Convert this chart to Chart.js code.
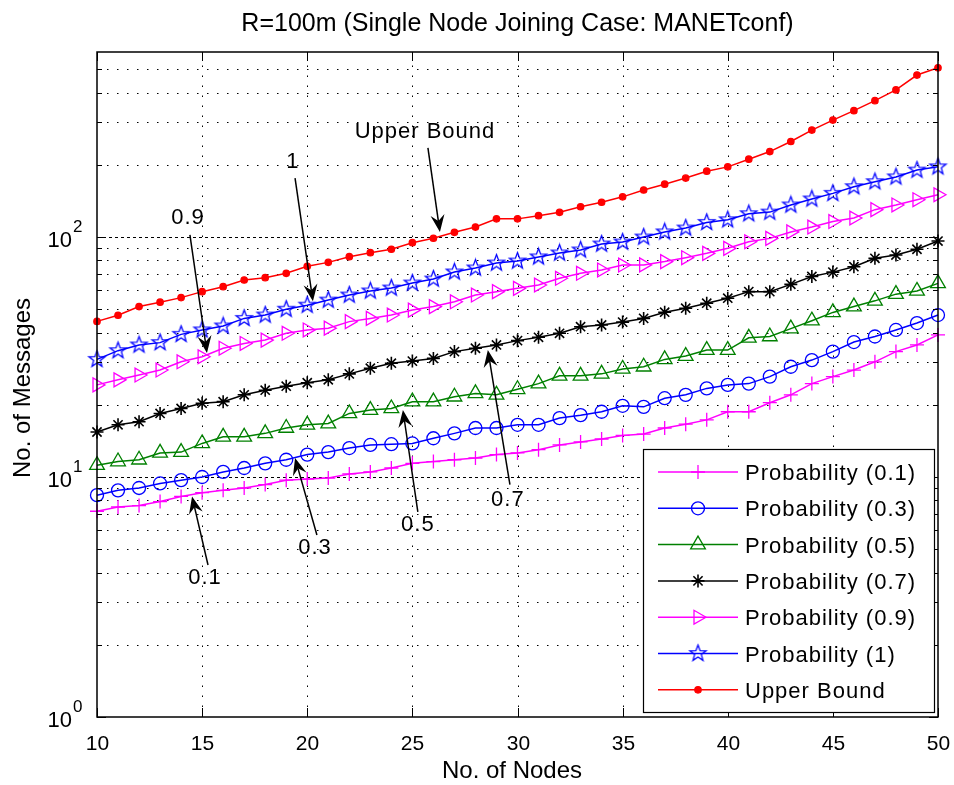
<!DOCTYPE html>
<html>
<head>
<meta charset="utf-8">
<script src="https://cdn.jsdelivr.net/npm/chart.js@4.4.1/dist/chart.umd.min.js"></script>
<style>
  body { margin: 0; background: #fff; }
</style>
</head>
<body>
<canvas id="chart" width="954" height="785"></canvas>
<script>
// x axis: number of nodes
const nodes = [10, 11, 12, 13, 14, 15, 16, 17, 18, 19, 20, 21, 22, 23, 24, 25, 26, 27, 28, 29, 30,
               31, 32, 33, 34, 35, 36, 37, 38, 39, 40, 41, 42, 43, 44, 45, 46, 47, 48, 49, 50];

// number of messages for each probability
const prob01 = [7.2, 7.5, 7.6, 7.9, 8.3, 8.6, 8.8, 9.0, 9.3, 9.7, 9.8, 9.9, 10.3, 10.5, 10.9, 11.4, 11.6, 11.8, 12.0, 12.4, 12.6,
                13.0, 13.6, 14.0, 14.4, 14.9, 15.1, 16.0, 16.6, 17.3, 18.7, 18.7, 20.4, 22.0, 24.5, 26.2, 27.9, 30.2, 33.3, 35.5, 39.1];
const prob03 = [8.4, 8.8, 9.0, 9.4, 9.7, 10.0, 10.5, 10.9, 11.4, 11.8, 12.4, 12.7, 13.2, 13.6, 13.7, 13.8, 14.5, 15.2, 16.0, 16.0, 16.5,
                16.5, 17.6, 18.1, 18.7, 19.8, 19.6, 21.3, 22.0, 23.4, 24.2, 24.5, 26.2, 28.8, 30.7, 33.3, 36.5, 38.5, 41.0, 43.8, 47.3];
const prob05 = [11.2, 11.6, 11.8, 12.6, 12.7, 13.8, 14.7, 14.7, 15.2, 16.0, 16.5, 16.7, 18.4, 19.0, 19.3, 20.6, 20.6, 21.6, 22.3, 22.0, 23.2,
                24.5, 26.4, 26.4, 26.9, 28.2, 28.8, 30.9, 31.9, 33.8, 33.8, 38.0, 38.5, 41.5, 44.8, 48.5, 51.3, 54.2, 57.8, 59.6, 64.1];
const prob07 = [15.4, 16.5, 17.0, 18.4, 19.3, 20.3, 20.6, 22.0, 23.0, 23.9, 24.7, 25.4, 26.9, 28.4, 29.8, 30.4, 31.2, 33.3, 34.4, 35.5, 37.0,
                38.2, 39.7, 42.3, 43.0, 44.2, 45.8, 48.6, 50.5, 53.0, 55.6, 59.2, 59.2, 63.5, 68.5, 71.4, 75.2, 81.5, 84.1, 88.9, 96.2];
const prob09 = [24.2, 25.4, 26.6, 27.9, 30.2, 31.7, 34.4, 36.0, 37.2, 39.7, 41.0, 41.7, 44.4, 45.8, 47.3, 49.6, 51.3, 53.7, 57.3, 59.2, 61.1,
                63.1, 67.3, 70.6, 72.9, 76.4, 76.5, 79.0, 82.0, 85.5, 89.7, 95.6, 98.7, 105, 110, 116, 120, 130, 136, 143, 150];
const prob1  = [30.9, 33.6, 35.5, 36.3, 39.3, 41.0, 42.6, 45.8, 47.3, 50.0, 52.0, 54.6, 57.3, 59.6, 61.3, 64.3, 66.8, 71.5, 74.3, 77.9, 79.4,
                82.6, 85.8, 88.3, 93.5, 95.3, 100, 105, 109, 115, 118, 125, 127, 136, 144, 152, 162, 170, 178, 190, 196];
const upper  = [44.5, 47.2, 51.3, 53.5, 55.9, 59.2, 62.1, 66.2, 67.7, 70.6, 75.5, 78.4, 82.8, 86.0, 88.9, 94.7, 98.8, 104.6, 110, 119, 119,
                122.7, 126.7, 133.7, 139.6, 147, 157, 166, 176, 188, 196, 211, 227, 250, 279, 307, 336, 370, 410, 473, 507];

const seriesNames = ['Probability (0.1)', 'Probability (0.3)', 'Probability (0.5)', 'Probability (0.7)',
                     'Probability (0.9)', 'Probability (1)', 'Upper Bound'];
const xTicks = [10, 15, 20, 25, 30, 35, 40, 45, 50];

const FONT = '"Liberation Sans", Arial, sans-serif';

// MATLAB style pentagram marker
function makePentagram(color, r) {
    const c = document.createElement('canvas');
    const s = Math.ceil(r * 2 + 4);
    c.width = s; c.height = s;
    const g = c.getContext('2d');
    g.strokeStyle = color;
    g.lineWidth = 1.3;
    g.beginPath();
    for (let i = 0; i < 10; i++) {
        const rr = i % 2 === 0 ? r : r * 0.42;
        const a = -Math.PI / 2 + i * Math.PI / 5;
        const px = s / 2 + rr * Math.cos(a), py = s / 2 + rr * Math.sin(a);
        if (i === 0) g.moveTo(px, py); else g.lineTo(px, py);
    }
    g.closePath();
    g.stroke();
    return c;
}

function series(label, values, color, style, radius, extra) {
    return Object.assign({
        label: label,
        data: nodes.map((n, i) => ({ x: n, y: values[i] })),
        borderColor: color,
        borderWidth: 1.5,
        pointBorderColor: color,
        pointBackgroundColor: 'rgba(0,0,0,0)',
        pointStyle: style,
        pointRadius: radius,
        pointBorderWidth: 1.3,
        tension: 0,
        clip: false
    }, extra || {});
}

const datasets = [
    series(seriesNames[0], prob01, '#ff00ff', 'cross', 7),
    series(seriesNames[1], prob03, '#0000ff', 'circle', 6.5),
    series(seriesNames[2], prob05, '#008000', 'triangle', 8.5),
    series(seriesNames[3], prob07, '#000000', 'star', 6.5, { pointBorderWidth: 1.6 }),
    series(seriesNames[4], prob09, '#ff00ff', 'triangle', 8, { pointRotation: 90 }),
    series(seriesNames[5], prob1, '#0000ff', makePentagram('#0000ff', 8.5), 8),
    series(seriesNames[6], upper, '#ff0000', 'circle', 3.2, { pointBackgroundColor: '#ff0000' })
];

// text arrows on the plot (data coordinates)
const arrows = [
    { text: 'Upper Bound', tx: 25.6, ty: 274, x0: 25.74, y0: 235, x1: 26.31, y1: 105 },
    { text: '1', tx: 19.32, ty: 205, x0: 19.42, y0: 176, x1: 20.27, y1: 54 },
    { text: '0.9', tx: 14.33, ty: 120, x0: 14.42, y0: 102, x1: 15.23, y1: 32.9 },
    { text: '0.1', tx: 15.14, ty: 3.8, x0: 15.28, y0: 4.3, x1: 14.52, y1: 8.3 },
    { text: '0.3', tx: 20.37, ty: 5.06, x0: 20.46, y0: 5.73, x1: 19.42, y1: 12.0 },
    { text: '0.5', tx: 25.26, ty: 6.3, x0: 25.26, y0: 7.15, x1: 24.55, y1: 19.0 },
    { text: '0.7', tx: 29.54, ty: 8.0, x0: 29.64, y0: 9.3, x1: 28.59, y1: 33.8 }
];

function txt(ctx, s, x, y, size, align, baseline, spacing) {
    ctx.save();
    ctx.font = size + 'px ' + FONT;
    ctx.textAlign = align || 'left';
    ctx.textBaseline = baseline || 'alphabetic';
    if (spacing) ctx.letterSpacing = spacing + 'px';
    ctx.fillStyle = '#000';
    ctx.fillText(s, x, y);
    ctx.restore();
}

function mantissa(v) {
    const m = v / Math.pow(10, Math.floor(Math.log10(v) + 1e-9));
    return Math.abs(m - Math.round(m)) < 1e-6 ? Math.round(m) : null;
}

const matlabAxes = {
    id: 'matlabAxes',
    beforeDatasetsDraw(chart) {
        const ctx = chart.ctx, a = chart.chartArea;
        const xs = chart.scales.x, ys = chart.scales.y;
        ctx.save();
        ctx.strokeStyle = '#000';
        ctx.lineWidth = 1;
        // horizontal grid
        ys.ticks.forEach(t => {
            const m = mantissa(t.value);
            if (m === null || t.value <= ys.min) return;
            const py = Math.round(ys.getPixelForValue(t.value)) + 0.5;
            ctx.setLineDash(m === 1 ? [3, 3] : [1.5, 8.5]);
            ctx.beginPath(); ctx.moveTo(a.left, py); ctx.lineTo(a.right, py); ctx.stroke();
        });
        // vertical grid
        ctx.setLineDash([1.5, 8.5]);
        xs.ticks.forEach(t => {
            if (t.value <= xs.min || t.value >= xs.max) return;
            const px = Math.round(xs.getPixelForValue(t.value)) + 0.5;
            ctx.beginPath(); ctx.moveTo(px, a.bottom); ctx.lineTo(px, a.top); ctx.stroke();
        });
        ctx.restore();
    },
    afterDatasetsDraw(chart) {
        const ctx = chart.ctx, a = chart.chartArea;
        const xs = chart.scales.x, ys = chart.scales.y;
        ctx.save();
        ctx.strokeStyle = '#000';
        ctx.lineWidth = 1.5;
        ctx.strokeRect(a.left, a.top, a.right - a.left, a.bottom - a.top);
        ctx.lineWidth = 1;
        // inward ticks
        ys.ticks.forEach(t => {
            const m = mantissa(t.value);
            if (m === null) return;
            const py = Math.round(ys.getPixelForValue(t.value)) + 0.5;
            const len = m === 1 ? 9 : 5;
            ctx.beginPath();
            ctx.moveTo(a.left, py); ctx.lineTo(a.left + len, py);
            ctx.moveTo(a.right, py); ctx.lineTo(a.right - len, py);
            ctx.stroke();
            if (m === 1) {
                const exp = Math.round(Math.log10(t.value));
                txt(ctx, '10', 72, py + 9, 22, 'right');
                txt(ctx, String(exp), 73, py - 6, 17, 'left');
            }
        });
        xs.ticks.forEach(t => {
            const px = Math.round(xs.getPixelForValue(t.value)) + 0.5;
            ctx.beginPath();
            ctx.moveTo(px, a.bottom); ctx.lineTo(px, a.bottom - 9);
            ctx.moveTo(px, a.top); ctx.lineTo(px, a.top + 9);
            ctx.stroke();
            txt(ctx, String(t.value), px, 750, 21, 'center');
        });

        // arrows with labels
        arrows.forEach(r => {
            const x0 = xs.getPixelForValue(r.x0), y0 = ys.getPixelForValue(r.y0);
            const x1 = xs.getPixelForValue(r.x1), y1 = ys.getPixelForValue(r.y1);
            const ang = Math.atan2(y1 - y0, x1 - x0);
            const dx = Math.cos(ang), dy = Math.sin(ang);
            const L = 17, W = 7, B = 11;
            ctx.lineWidth = 1.5;
            ctx.beginPath();
            ctx.moveTo(x0, y0);
            ctx.lineTo(x1 - B * dx, y1 - B * dy);
            ctx.stroke();
            ctx.fillStyle = '#000';
            ctx.beginPath();
            ctx.moveTo(x1, y1);
            ctx.lineTo(x1 - L * dx - W * dy, y1 - L * dy + W * dx);
            ctx.lineTo(x1 - B * dx, y1 - B * dy);
            ctx.lineTo(x1 - L * dx + W * dy, y1 - L * dy - W * dx);
            ctx.closePath();
            ctx.fill();
            txt(ctx, r.text, xs.getPixelForValue(r.tx), ys.getPixelForValue(r.ty), 22, 'center', 'middle', 1);
        });

        // legend box
        const lx = 643, ly = 449, lw = 291, lh = 263;
        ctx.fillStyle = '#fff';
        ctx.fillRect(lx, ly, lw, lh);
        ctx.lineWidth = 1.2;
        ctx.strokeStyle = '#000';
        ctx.strokeRect(lx + 0.5, ly + 0.5, lw, lh);
        chart.data.datasets.forEach((ds, i) => {
            const cy = 472 + i * 36.3;
            ctx.strokeStyle = ds.borderColor;
            ctx.lineWidth = 1.5;
            ctx.beginPath(); ctx.moveTo(658, cy); ctx.lineTo(738, cy); ctx.stroke();
            const opts = chart.getDatasetMeta(i).data[0].options;
            ctx.save();
            ctx.strokeStyle = opts.borderColor;
            ctx.fillStyle = opts.backgroundColor;
            ctx.lineWidth = opts.borderWidth;
            Chart.helpers.drawPoint(ctx, opts, 698, cy);
            ctx.restore();
            txt(ctx, ds.label, 745, cy + 8, 22, 'left', 'alphabetic', 1);
        });

        // title and axis labels
        txt(ctx, 'R=100m (Single Node Joining Case: MANETconf)', (a.left + a.right) / 2, 31, 25, 'center');
        txt(ctx, 'No. of Nodes', 512, 778, 24, 'center');
        ctx.save();
        ctx.translate(30, 388);
        ctx.rotate(-Math.PI / 2);
        txt(ctx, 'No. of Messages', 0, 0, 24, 'center');
        ctx.restore();
        ctx.restore();
    }
};

new Chart(document.getElementById('chart').getContext('2d'), {
    type: 'line',
    data: { datasets: datasets },
    options: {
        responsive: false,
        animation: false,
        layout: { padding: { top: 52, right: 16, left: 0, bottom: 0 } },
        plugins: {
            legend: { display: false },
            tooltip: { enabled: false },
            title: { display: false }
        },
        scales: {
            x: {
                type: 'linear', min: 10, max: 50,
                afterBuildTicks: s => { s.ticks = xTicks.map(v => ({ value: v })); },
                ticks: { display: false },
                grid: { display: false },
                border: { display: false },
                afterFit: s => { s.height = 68; }
            },
            y: {
                type: 'logarithmic', min: 1, max: 590,
                ticks: { display: false },
                grid: { display: false },
                border: { display: false },
                afterFit: s => { s.width = 97; }
            }
        }
    },
    plugins: [matlabAxes]
});
</script>
</body>
</html>
